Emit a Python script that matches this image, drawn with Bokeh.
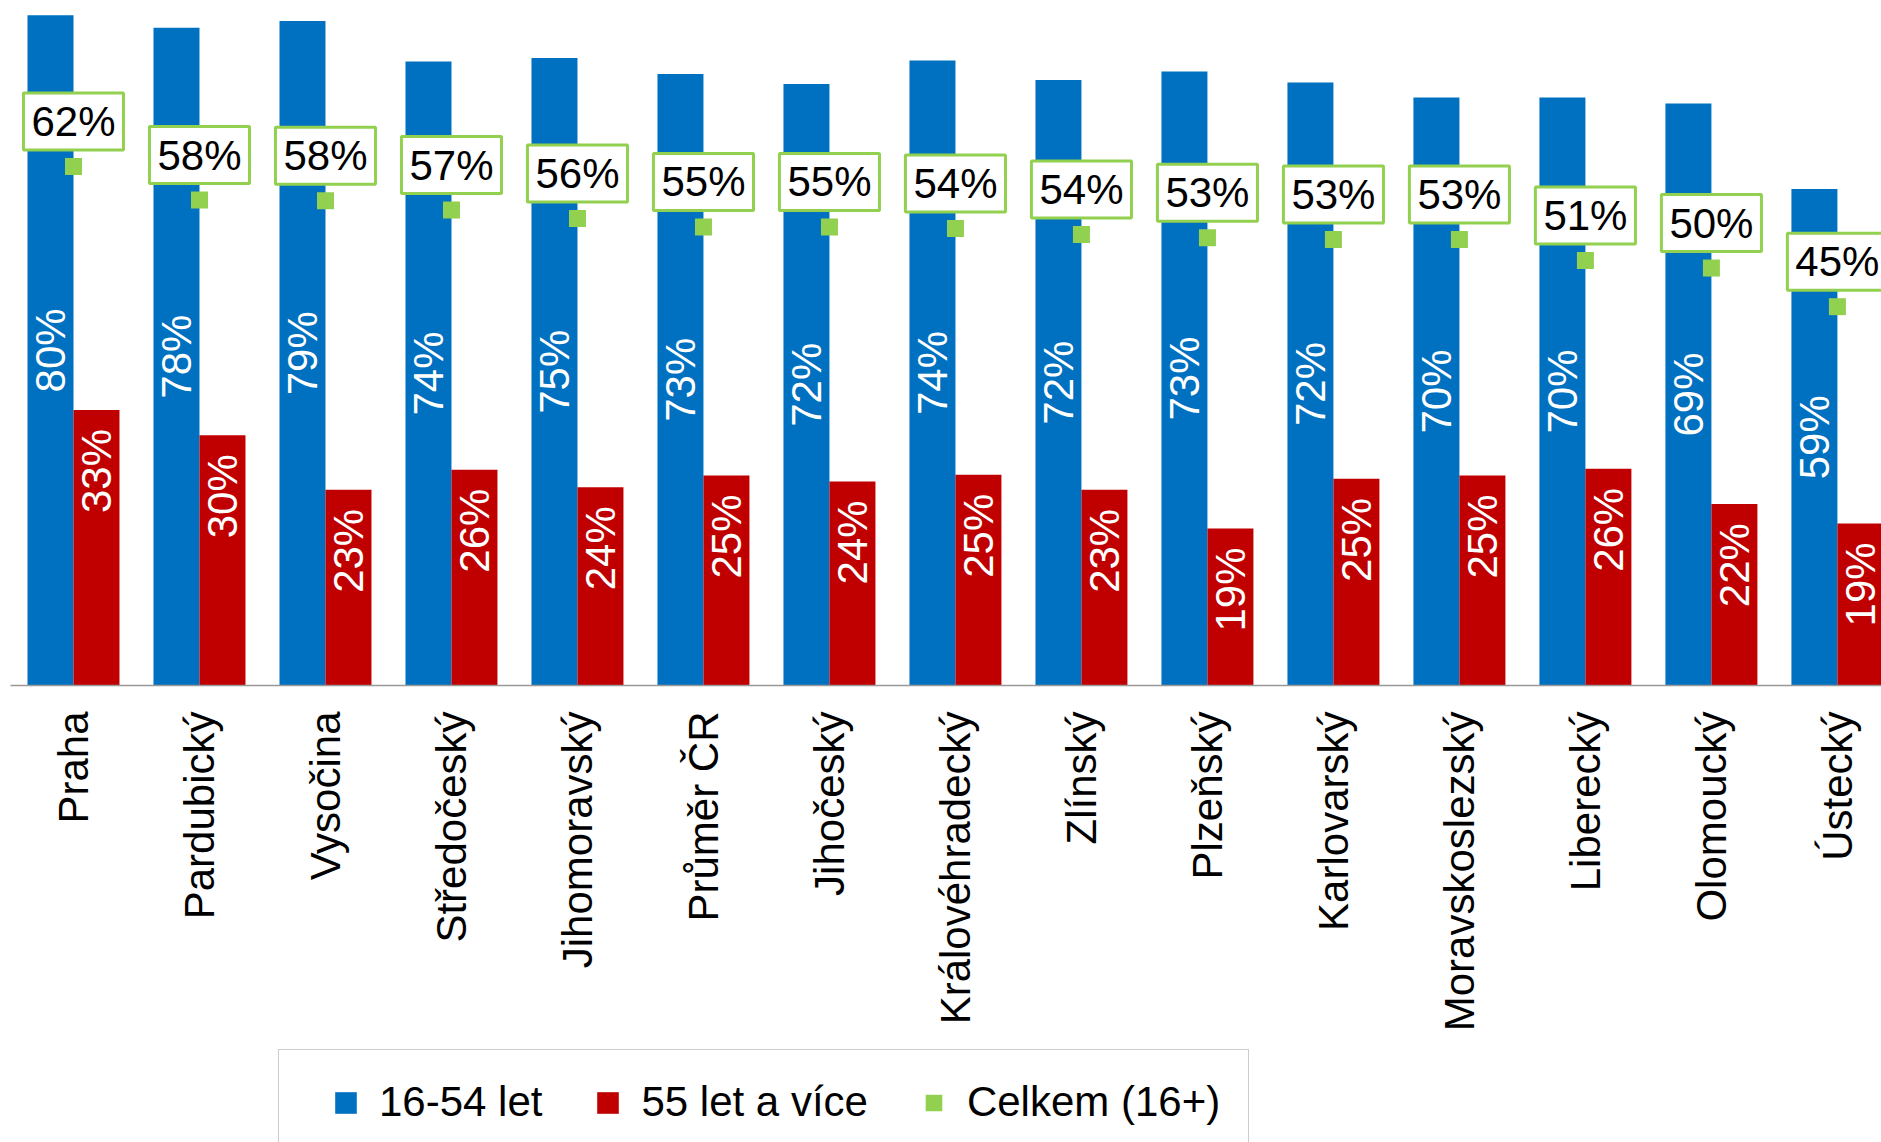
import math
from bokeh.plotting import figure
from bokeh.layouts import column
from bokeh.models import ColumnDataSource, Range1d, FixedTicker, Legend, LegendItem
from bokeh.transform import dodge
from bokeh.core.properties import value
from bokeh.embed import file_html
from bokeh.resources import INLINE

# ---- data ----
regions = ["Praha", "Pardubický", "Vysočina", "Středočeský", "Jihomoravský",
           "Průměr ČR", "Jihočeský", "Královéhradecký", "Zlínský", "Plzeňský",
           "Karlovarský", "Moravskoslezský", "Liberecký", "Olomoucký", "Ústecký"]
age_16_54 = [79.8, 78.3, 79.1, 74.3, 74.7, 72.8, 71.6, 74.4, 72.1, 73.1,
             71.8, 70.0, 70.0, 69.3, 59.1]
age_55_plus = [32.8, 29.8, 23.3, 25.7, 23.6, 25.0, 24.3, 25.1, 23.3, 18.7,
               24.6, 25.0, 25.8, 21.6, 19.3]
total_16_plus = [61.8, 57.8, 57.7, 56.6, 55.6, 54.6, 54.6, 54.4, 53.7, 53.3,
                 53.1, 53.1, 50.6, 49.7, 45.1]
series_names = ["16-54 let", "55 let a více", "Celkem (16+)"]

BLUE = "#0070C0"
RED = "#C00000"
GREEN = "#92D050"
FONT_NAME = "Liberation Sans"
FONT = value(FONT_NAME)
FS = "42px"
BAR_W = 0.365
HALF = BAR_W / 2

n = len(regions)
src = ColumnDataSource(dict(
    idx=list(range(n)),
    young=age_16_54,
    old=age_55_plus,
    total=total_16_plus,
    young_mid=[v / 2 for v in age_16_54],
    young_lbl=[f"{v:.0f}%" for v in age_16_54],
    old_lbl=[f"{v:.0f}%" for v in age_55_plus],
    total_lbl=[f"{v:.0f}%" for v in total_16_plus],
))

p = figure(frame_width=1871, frame_height=677,
           x_range=Range1d(-0.5, 14.35), y_range=Range1d(0, 80.6),
           output_backend="svg", toolbar_location=None, y_axis_location=None,
           min_border_left=10, min_border_right=0, min_border_top=8,
           min_border_bottom=360, outline_line_color=None,
           background_fill_color="white", border_fill_color="white")

bar_style = dict(width=BAR_W, source=src, line_color=None)
p.vbar(x=dodge("idx", -HALF), top="young", fill_color=BLUE, **bar_style)
p.vbar(x=dodge("idx", HALF), top="old", fill_color=RED, **bar_style)
p.scatter(x="idx", y="total", marker="square", size=17, source=src,
          fill_color=GREEN, line_color=None)

# value labels inside bars
p.text(x=dodge("idx", -HALF), y="young_mid", text="young_lbl", source=src,
       angle=math.pi / 2, text_align="center", text_baseline="middle",
       text_color="white", text_font=FONT, text_font_size=FS)
p.text(x=dodge("idx", HALF), y="old", text="old_lbl", source=src,
       angle=math.pi / 2, text_align="right", text_baseline="middle",
       y_offset=19, text_color="white", text_font=FONT, text_font_size=FS)

# boxed labels for total
p.text(x="idx", y="total", text="total_lbl", source=src, y_offset=-45,
       text_align="center", text_baseline="middle", text_color="black",
       text_font=FONT, text_font_size=FS,
       background_fill_color="white", border_line_color=GREEN,
       border_line_width=3,
       padding=dict(left=8, right=8, top=5, bottom=5))

ax = p.xaxis[0]
ax.ticker = FixedTicker(ticks=list(range(n)))
ax.major_label_overrides = {i: r for i, r in enumerate(regions)}
ax.major_label_orientation = math.pi / 2
ax.major_tick_line_color = None
ax.minor_tick_line_color = None
ax.major_tick_out = 0
ax.major_tick_in = 0
ax.major_label_standoff = 26
ax.axis_line_color = "#999999"
ax.axis_line_width = 1.5
ax.major_label_text_font = FONT_NAME
ax.major_label_text_font_size = FS
ax.major_label_text_color = "black"
p.xgrid.visible = False
p.ygrid.visible = False

# ---- legend strip below the chart (same series, glyphs kept out of view) ----
pl = figure(width=1881, height=97, x_range=Range1d(100, 101),
            y_range=Range1d(100, 101), output_backend="svg",
            toolbar_location=None, x_axis_location=None, y_axis_location=None,
            min_border=0, outline_line_color=None,
            background_fill_color="white", border_fill_color="white")
pl.xgrid.visible = False
pl.ygrid.visible = False
lb = pl.vbar(x=dodge("idx", -HALF), top="young", fill_color=BLUE, **bar_style)
lr = pl.vbar(x=dodge("idx", HALF), top="old", fill_color=RED, **bar_style)
# Celkem key: green square drawn smaller via a white rim
lg = pl.vbar(x="idx", top="total", width=BAR_W, source=src,
             fill_color=GREEN, line_color="white", line_width=5)

legend = Legend(items=[LegendItem(label=series_names[0], renderers=[lb]),
                       LegendItem(label=series_names[1], renderers=[lr]),
                       LegendItem(label=series_names[2], renderers=[lg])],
                orientation="horizontal", location=(268, -13),
                padding=28, spacing=52, label_standoff=20,
                glyph_width=27, glyph_height=27, margin=0,
                title=" ", title_location="left", title_standoff=24,
                title_text_font_size="1px",
                label_text_font=FONT_NAME, label_text_font_size=FS,
                label_text_color="black",
                border_line_color="#999999", border_line_width=1.5,
                background_fill_color="white")
pl.add_layout(legend)

layout = column(p, pl, spacing=0)
open("out.html", "w").write(file_html(layout, INLINE, "chart"))
